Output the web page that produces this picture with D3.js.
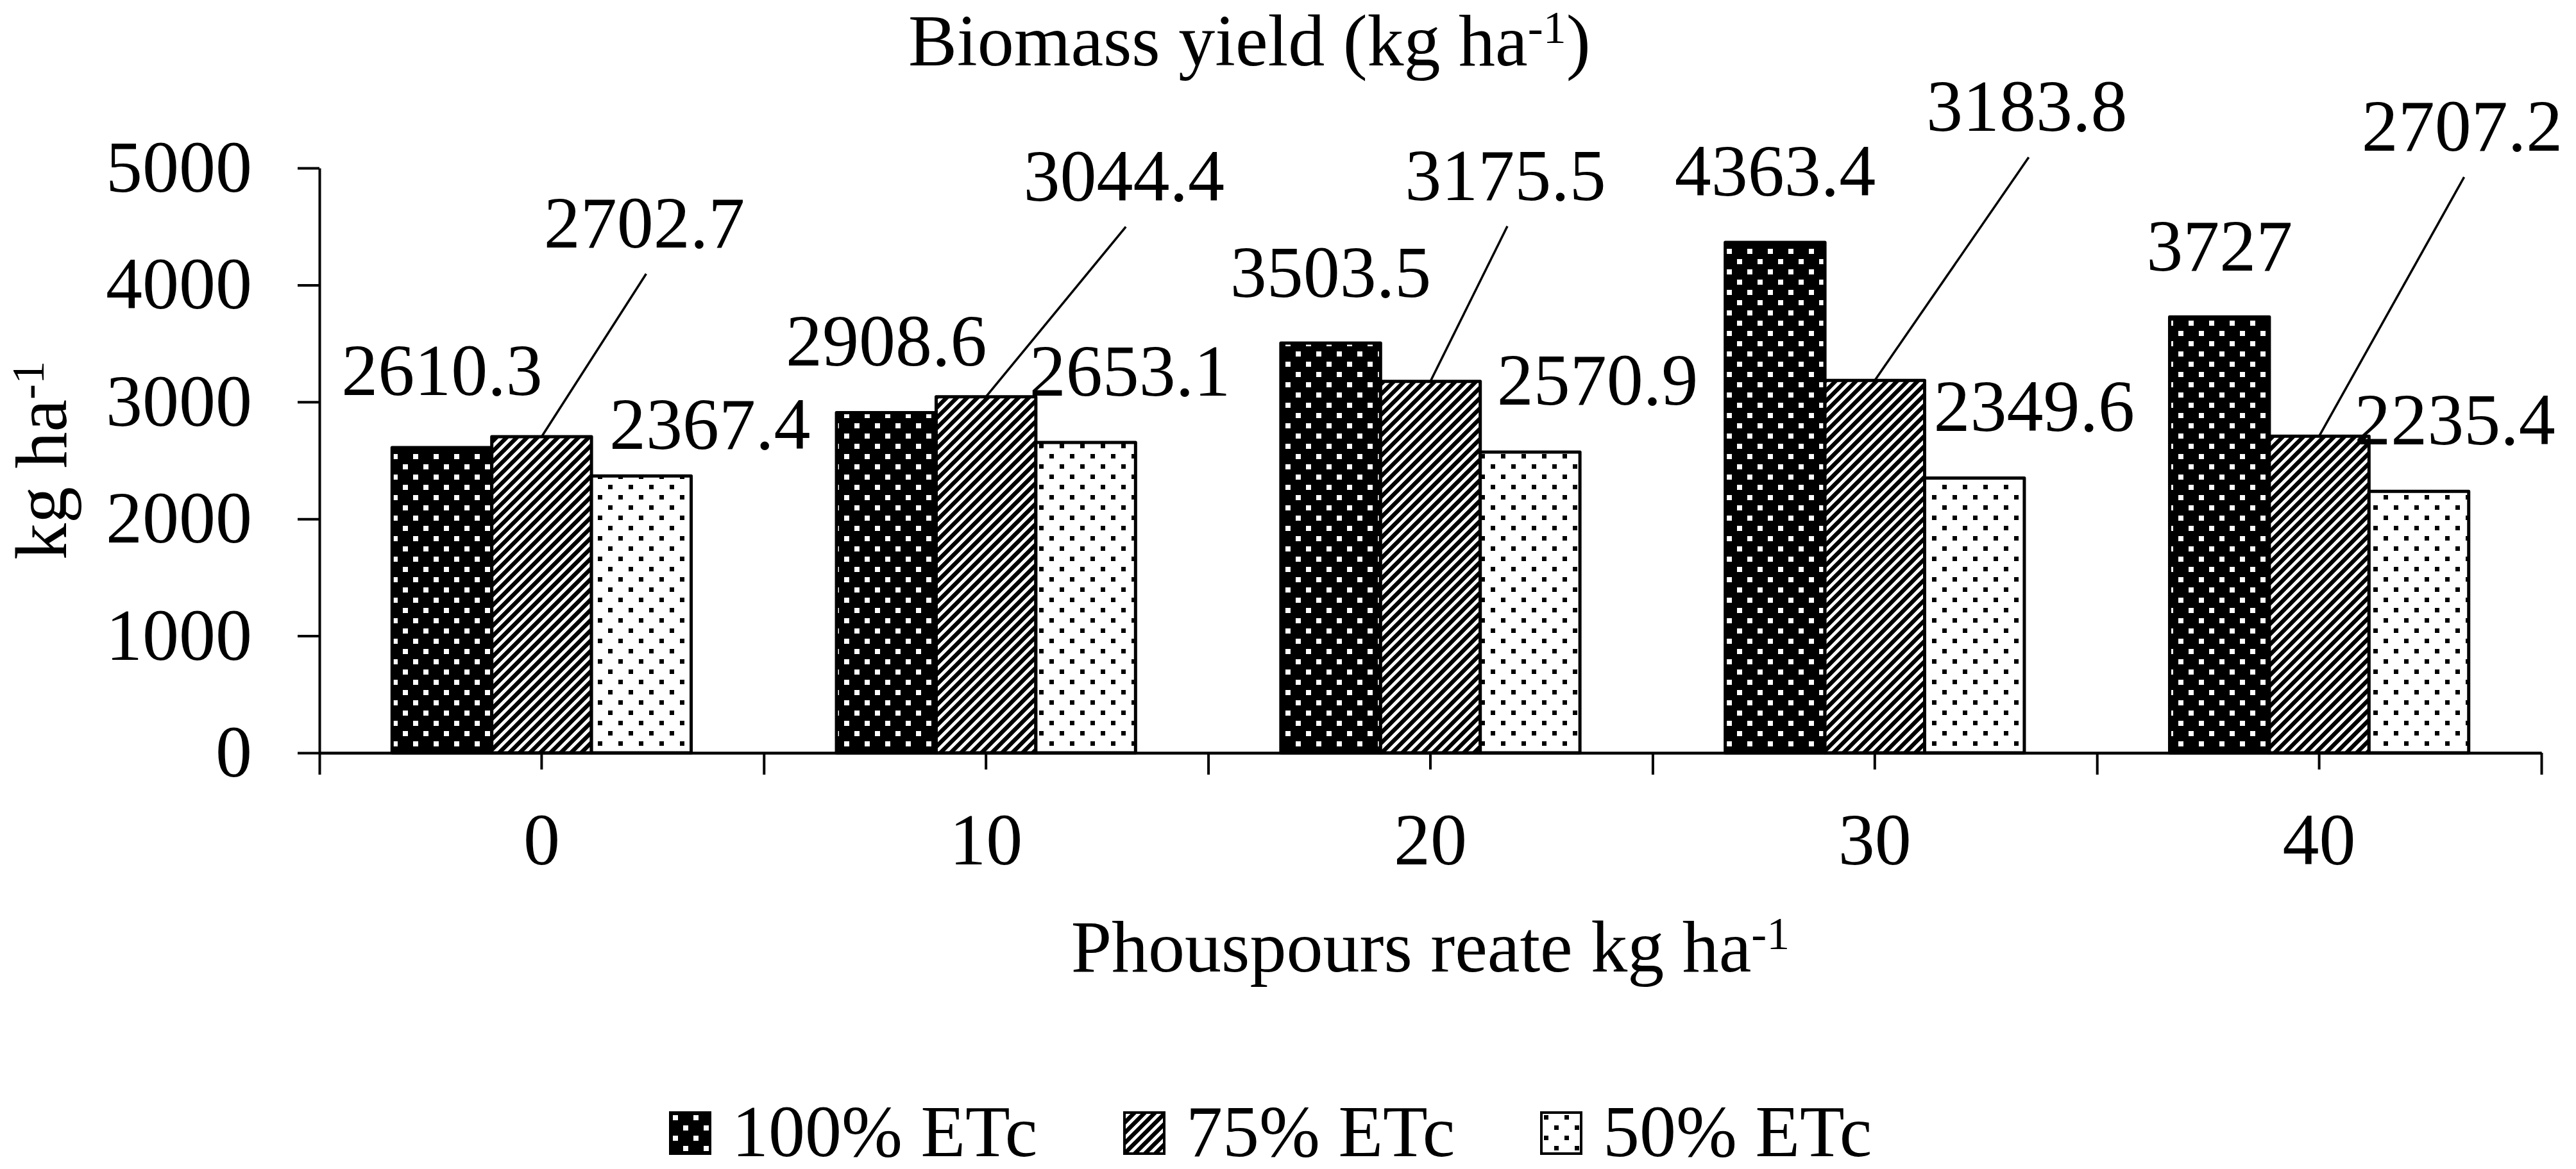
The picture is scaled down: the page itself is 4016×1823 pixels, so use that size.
<!DOCTYPE html>
<html>
<head>
<meta charset="utf-8">
<script src="https://cdn.jsdelivr.net/npm/d3@7"></script>
<style>
  body { margin: 0; background: #fff; }
  svg text { font-family: "Liberation Serif", "Times New Roman", serif; fill: #000; }
</style>
</head>
<body>
<div id="chart"></div>
<script>
var rates = ["0", "10", "20", "30", "40"];
var series = ["100% ETc", "75% ETc", "50% ETc"];
var etc100 = [2610.3, 2908.6, 3503.5, 4363.4, 3727];
var etc75 = [2702.7, 3044.4, 3175.5, 3183.8, 2707.2];
var etc50 = [2367.4, 2653.1, 2570.9, 2349.6, 2235.4];
var yTicks = [0, 1000, 2000, 3000, 4000, 5000];

// label placement relative to the top centre of each bar [dx, dy]
var labelOffsets = [
  [[0, -82], [0, -73], [0, -72], [0, -73], [0, -72]],
  [[160, -295], [215, -306], [117, -283], [237, -389], [223, -445]],
  [[107, -42], [69, -73], [105, -74], [93, -73], [56, -73]]
];

var w = 4016, h = 1823;
var fontSize = 114;
var plotLeft = 498, plotRight = 3962, plotTop = 262, plotBottom = 1174;

var svg = d3.select("#chart")
  .append("svg")
  .attr("width", w)
  .attr("height", h);

// fill patterns
var defs = svg.append("defs");

var p1 = defs.append("pattern")
  .attr("id", "pat100")
  .attr("patternUnits", "userSpaceOnUse")
  .attr("width", 32).attr("height", 32);
p1.append("rect").attr("width", 32).attr("height", 32).attr("fill", "#000");
p1.append("rect").attr("x", 4).attr("y", 4).attr("width", 8).attr("height", 8).attr("fill", "#fff");
p1.append("rect").attr("x", 20).attr("y", 20).attr("width", 8).attr("height", 8).attr("fill", "#fff");

var p2 = defs.append("pattern")
  .attr("id", "pat75")
  .attr("patternUnits", "userSpaceOnUse")
  .attr("width", 16).attr("height", 16);
p2.append("rect").attr("width", 16).attr("height", 16).attr("fill", "#fff");
p2.append("path")
  .attr("d", "M-4,4 L4,-4 M0,16 L16,0 M12,20 L20,12")
  .attr("stroke", "#000")
  .attr("stroke-width", 6.5);

var p3 = defs.append("pattern")
  .attr("id", "pat50")
  .attr("patternUnits", "userSpaceOnUse")
  .attr("width", 32).attr("height", 32);
p3.append("rect").attr("width", 32).attr("height", 32).attr("fill", "#fff");
p3.append("rect").attr("x", 4).attr("y", 4).attr("width", 7).attr("height", 7).attr("fill", "#000");
p3.append("rect").attr("x", 20).attr("y", 20).attr("width", 7).attr("height", 7).attr("fill", "#000");

var fills = ["url(#pat100)", "url(#pat75)", "url(#pat50)"];
var values = [etc100, etc75, etc50];

// scales
var x = d3.scaleBand()
  .domain(rates)
  .range([plotLeft, plotRight])
  .paddingInner(0.327)
  .paddingOuter(0.1635);

var xSub = d3.scaleBand()
  .domain(d3.range(series.length))
  .range([0, x.bandwidth()]);

var y = d3.scaleLinear()
  .domain([0, 5000])
  .range([plotBottom, plotTop]);

// bars
var barData = [];
values.forEach(function(vals, s) {
  vals.forEach(function(v, i) {
    barData.push({s: s, i: i, v: v});
  });
});

svg.append("g")
  .attr("class", "bars")
  .selectAll("rect")
  .data(barData)
  .enter()
  .append("rect")
  .attr("x", function(d) { return x(rates[d.i]) + xSub(d.s); })
  .attr("y", function(d) { return y(d.v); })
  .attr("width", xSub.bandwidth())
  .attr("height", function(d) { return y(0) - y(d.v); })
  .attr("fill", function(d) { return fills[d.s]; })
  .attr("stroke", "#000")
  .attr("stroke-width", 5)
  .attr("stroke-linejoin", "round");

// y axis
var yAxis = d3.axisLeft(y)
  .tickValues(yTicks)
  .tickSize(34)
  .tickSizeOuter(0)
  .tickPadding(71)
  .tickFormat(d3.format("d"));

var gy = svg.append("g")
  .attr("class", "y axis")
  .attr("transform", "translate(" + plotLeft + ",0)")
  .call(yAxis);

// x axis: centre ticks with labels
var xAxis = d3.axisBottom(x)
  .tickSize(26)
  .tickSizeOuter(0);

var gx = svg.append("g")
  .attr("class", "x axis")
  .attr("transform", "translate(0," + plotBottom + ")")
  .call(xAxis);

gx.selectAll("text")
  .attr("y", 174)
  .attr("dy", 0);

// x axis: category boundary ticks
var xEdge = d3.scaleLinear()
  .domain([0, rates.length])
  .range([plotLeft, plotRight]);

svg.append("g")
  .attr("class", "x edge axis")
  .attr("transform", "translate(0," + plotBottom + ")")
  .call(d3.axisBottom(xEdge).ticks(rates.length).tickSize(34).tickSizeOuter(0).tickFormat(""));

svg.selectAll(".axis path, .axis line")
  .attr("stroke", "#000")
  .attr("stroke-width", 4);

svg.selectAll(".axis text")
  .style("font-size", fontSize + "px")
  .style("font-family", "'Liberation Serif', 'Times New Roman', serif");

// value labels and leader lines
var labels = svg.append("g").attr("class", "labels");

barData.forEach(function(d) {
  var cx = x(rates[d.i]) + xSub(d.s) + xSub.bandwidth() / 2;
  var ty = y(d.v);
  var off = labelOffsets[d.s][d.i];
  var lx = cx + off[0], ly = ty + off[1];

  if (d.s === 1) {
    labels.append("line")
      .attr("x1", lx + 3)
      .attr("y1", ly + 41)
      .attr("x2", cx)
      .attr("y2", ty)
      .attr("stroke", "#000")
      .attr("stroke-width", 3.5);
  }

  labels.append("text")
    .attr("x", lx)
    .attr("y", ly)
    .attr("text-anchor", "middle")
    .style("font-size", fontSize + "px")
    .text(d3.format("")(d.v));
});

// chart title
var title = svg.append("text")
  .attr("x", 1416)
  .attr("y", 102)
  .style("font-size", fontSize + "px");
title.append("tspan").text("Biomass yield (kg ha");
title.append("tspan").attr("dy", -35).style("font-size", "72px").text("-1");
title.append("tspan").attr("dy", 35).text(")");

// x axis title
var xTitle = svg.append("text")
  .attr("x", (plotLeft + plotRight) / 2)
  .attr("y", 1515)
  .attr("text-anchor", "middle")
  .style("font-size", fontSize + "px");
xTitle.append("tspan").text("Phouspours reate kg ha");
xTitle.append("tspan").attr("dy", -35).style("font-size", "72px").text("-1");

// y axis title
var yTitle = svg.append("text")
  .attr("transform", "translate(103," + ((plotTop + plotBottom) / 2) + ") rotate(-90)")
  .attr("text-anchor", "middle")
  .style("font-size", fontSize + "px");
yTitle.append("tspan").text("kg ha");
yTitle.append("tspan").attr("dy", -35).style("font-size", "72px").text("-1");

// legend
var legendX = [1045, 1753, 2403];

var legend = svg.append("g")
  .attr("class", "legend")
  .selectAll("g")
  .data(series)
  .enter()
  .append("g")
  .attr("transform", function(d, i) { return "translate(" + legendX[i] + ",1735)"; });

legend.append("rect")
  .attr("width", 62)
  .attr("height", 64)
  .attr("fill", function(d, i) { return fills[i]; })
  .attr("stroke", "#000")
  .attr("stroke-width", 4);

legend.append("text")
  .attr("x", 96)
  .attr("y", 68)
  .style("font-size", fontSize + "px")
  .text(function(d) { return d; });
</script>
</body>
</html>
